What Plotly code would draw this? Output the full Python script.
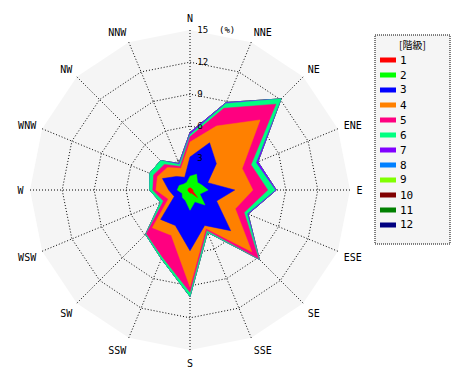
import numpy as np
import plotly.graph_objects as go

directions = ["N", "NNE", "NE", "ENE", "E", "ESE", "SE", "SSE",
              "S", "SSW", "SW", "WSW", "W", "WNW", "NW", "NNW"]
classes = ["1", "2", "3", "4", "5", "6", "7", "8", "9", "10", "11", "12"]
colors = ["#ff0000", "#00ff00", "#0000ff", "#ff8000", "#ff0080", "#00ff80",
          "#8000ff", "#0080ff", "#80ff00", "#800000", "#008000", "#000080"]

# frequency (%) of each class per direction (N, NNE, ... NNW)
c1 = [0.2, 0.2, 0.2, 0.2, 0.3, 0.3, 1.0, 0.3, 0.3, 0.2, 0.2, 0.2, 0.2, 0.2, 0.2, 0.2]
c2 = [1.1, 1.4, 0.8, 1.0, 1.4, 0.7, 1.0, 0.9, 1.6, 0.9, 0.8, 0.6, 1.0, 0.9, 0.6, 0.6]
c3 = [1.8, 3.2, 2.5, 0.6, 2.5, 1.7, 3.4, 2.4, 3.8, 2.5, 2.9, 0.8, 0.8, 1.7, 1.0, 0.5]
c4 = [1.4, 1.7, 5.8, 3.5, 1.7, 1.9, 2.8, 0.3, 3.4, 1.0, 1.1, 0.6, 1.2, 0.5, 1.2, 0.9]
c5 = [0.5, 1.8, 2.1, 0.9, 1.4, 0.9, 0.9, 0.2, 0.5, 2.2, 0.8, 0.5, 0.3, 0.4, 0.4, 0.2]
c6 = [0.2, 0.5, 0.7, 0.5, 0.7, 0.3, 0.1, 0.2, 0.4, 0.2, 0.1, 0.3, 0.3, 0.4, 0.5, 0.2]
c7 = [0.2, 0.1, 0.0, 0.2, 0.1, 0.1, 0.0, 0.0, 0.0, 0.0, 0.0, 0.0, 0.0, 0.0, 0.0, 0.1]
c8 = [0.0] * 16
c9 = [0.0] * 16
c10 = [0.0] * 16
c11 = [0.0] * 16
c12 = [0.0] * 16

radial_ticks = [3, 6, 9, 12, 15]
radial_labels = ["3", "6", "9", "12", "15\u00a0\u00a0(%)"]
legend_title = "[階級]"

series = [c1, c2, c3, c4, c5, c6, c7, c8, c9, c10, c11, c12]
cum = np.cumsum(np.array(series), axis=0)

FONT = "DejaVu Sans Mono"
DOT = "1px,2px"

fig = go.Figure()
for k in range(len(classes) - 1, -1, -1):
    r = list(cum[k]) + [cum[k][0]]
    th = directions + [directions[0]]
    fig.add_trace(go.Scatterpolar(
        r=r, theta=th, mode="lines", fill="toself",
        fillcolor=colors[k], line=dict(color=colors[k], width=0.5),
        name=classes[k], hoverinfo="skip", showlegend=False))

fig.update_layout(
    width=470, height=380,
    margin=dict(l=0, r=0, t=0, b=0),
    paper_bgcolor="white",
    font=dict(family=FONT, size=10, color="black"),
    showlegend=False,
    polar=dict(
        domain=dict(x=[30 / 470, 350 / 470], y=[30 / 380, 350 / 380]),
        gridshape="linear",
        bgcolor="#f5f5f5",
        angularaxis=dict(
            type="category", categoryarray=directions,
            rotation=90, direction="clockwise",
            showgrid=True, gridcolor="black", griddash=DOT, gridwidth=1,
            showline=False, ticks="outside", ticklen=4,
            tickcolor="rgba(0,0,0,0)",
            tickfont=dict(size=10, family=FONT),
        ),
        radialaxis=dict(
            range=[0, 15.02], angle=90, side="clockwise", tickangle=90,
            tickmode="array", tickvals=radial_ticks, ticktext=radial_labels,
            showgrid=True, gridcolor="black", griddash=DOT, gridwidth=1,
            showline=False, ticks="outside", ticklen=5,
            tickcolor="rgba(0,0,0,0)", tickfont=dict(size=9, family=FONT),
            layer="above traces",
        ),
    ),
)

# legend box (dotted frame) with title and class swatches
lx0, lx1, ly0, ly1 = 375 / 470, 450 / 470, 1 - 244 / 380, 1 - 35 / 380
fig.add_shape(type="rect", xref="paper", yref="paper",
              x0=lx0, x1=lx1, y0=ly0, y1=ly1, fillcolor="#f5f5f5",
              line=dict(color="black", width=1, dash="1px,1px"))
fig.add_annotation(xref="paper", yref="paper", x=(lx0 + lx1) / 2,
                   y=1 - 44 / 380, xanchor="center", yanchor="middle",
                   text=legend_title, showarrow=False,
                   font=dict(size=10, family="Noto Sans CJK JP"))
for k, name in enumerate(classes):
    yc = 1 - (60 + 15 * k) / 380
    fig.add_shape(type="rect", xref="paper", yref="paper",
                  x0=380 / 470, x1=396 / 470, y0=yc - 2.5 / 380, y1=yc + 2.5 / 380,
                  fillcolor=colors[k], line=dict(width=0))
    fig.add_annotation(xref="paper", yref="paper", x=398 / 470, y=yc,
                       xanchor="left", yanchor="middle", text=name,
                       showarrow=False, font=dict(size=11, family=FONT))

fig.write_html("out.html", post_script="document.body.style.margin='0';",
               config={"displayModeBar": False})
